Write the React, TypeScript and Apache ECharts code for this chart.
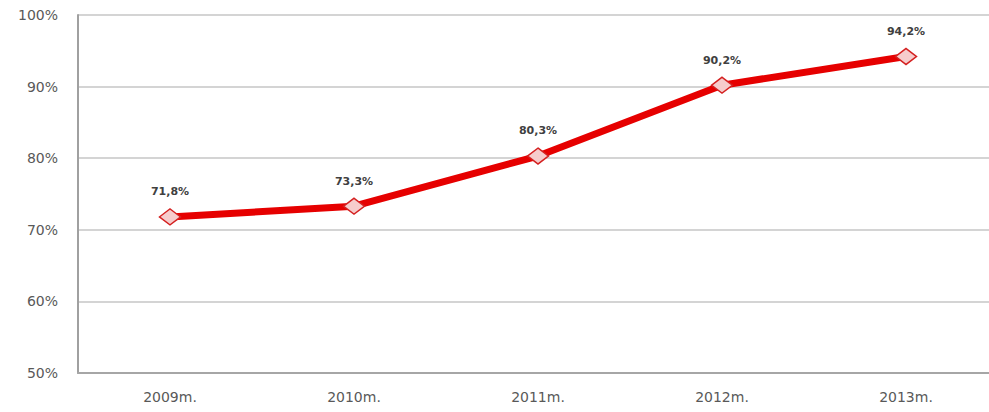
import React, { useEffect, useRef } from "react";
import * as echarts from "echarts";

const categories = ["2009m.", "2010m.", "2011m.", "2012m.", "2013m."];
const values = [71.8, 73.3, 80.3, 90.2, 94.2];
const yMin = 50;
const yMax = 100;
const yInterval = 10;

export default function App() {
  const ref = useRef<HTMLDivElement>(null);
  useEffect(() => {
    const chart = echarts.init(ref.current!, null, { renderer: "svg" });
    chart.setOption({
      animation: false,
      backgroundColor: "#ffffff",
      grid: { left: 78, top: 15, right: 2, bottom: 39, containLabel: false },
      xAxis: {
        type: "category",
        data: categories,
        boundaryGap: true,
        axisLine: { show: true, lineStyle: { color: "#a6a6a6", width: 2 } },
        axisTick: { show: false },
        axisLabel: {
          color: "#595959",
          fontFamily: "DejaVu Sans",
          fontSize: 14,
          margin: 17,
        },
        splitLine: { show: false },
      },
      yAxis: {
        type: "value",
        min: yMin,
        max: yMax,
        interval: yInterval,
        axisLine: { show: true, lineStyle: { color: "#a0a0a0", width: 2 } },
        axisTick: { show: false },
        axisLabel: {
          color: "#595959",
          fontFamily: "DejaVu Sans",
          fontSize: 14,
          margin: 20,
          formatter: (v: number) => `${v}%`,
        },
        splitLine: { show: true, lineStyle: { color: "#d4d4d4", width: 2 } },
      },
      series: [
        {
          type: "line",
          data: values,
          lineStyle: { color: "#e60000", width: 7 },
          symbol: "diamond",
          symbolSize: [21, 16],
          itemStyle: { color: "#f6cccc", borderColor: "#d42020", borderWidth: 1.5 },
          label: {
            show: true,
            position: "top",
            distance: 11,
            color: "#404040",
            fontFamily: "DejaVu Sans",
            fontWeight: "bold",
            fontSize: 11,
            formatter: (p: any) => `${p.value.toFixed(1).replace(".", ",")}%`,
          },
        },
      ],
    });
    return () => chart.dispose();
  }, []);
  return (
    <div
      style={{
        position: "fixed",
        left: 0,
        top: 0,
        width: 989,
        height: 412,
        overflow: "hidden",
        background: "#ffffff",
      }}
    >
      <div ref={ref} style={{ width: 1000, height: 412 }} />
    </div>
  );
}
